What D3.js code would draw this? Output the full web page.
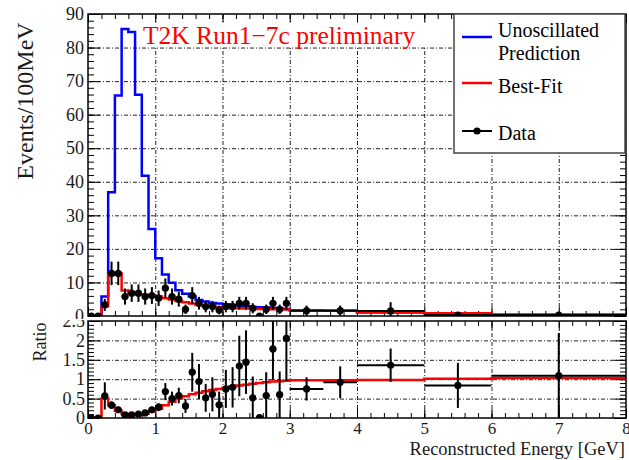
<!DOCTYPE html>
<html>
<head>
<meta charset="utf-8">
<script src="https://cdn.jsdelivr.net/npm/d3@7"></script>
<style>
body { margin:0; background:#fff; }
svg { font-family: "Liberation Serif", "DejaVu Serif", serif; }
</style>
</head>
<body>
<svg width="629" height="460"></svg>
<script>
// T2K nu-mu disappearance: events vs reconstructed energy, with ratio panel

// bin edges in GeV (100 MeV bins to 3 GeV, then wide bins)
var binEdges = [0,0.1,0.2,0.3,0.4,0.5,0.6,0.7,0.8,0.9,1.0,1.1,1.2,1.3,1.4,1.5,1.6,1.7,1.8,1.9,
                2.0,2.1,2.2,2.3,2.4,2.5,2.6,2.7,2.8,2.9,3.0,3.5,4,5,6,8];

// events / 100 MeV
var unoscillated = [0,0,5.8,36.9,65.7,85.5,84.6,65.9,41.8,25.9,17.2,12.4,9.9,7.7,6.6,5.8,4.8,4.3,3.9,3.7,
                    3.5,3.3,3.1,2.9,2.7,2.6,2.5,2.4,2.2,2.1,1.75,1.6,1.1,0.8,0.35];
var bestFit = [0,0,2.9,12.4,12.7,7.6,6.6,6.5,6.3,6.2,5.8,5.3,4.9,4.5,4.1,3.7,3.3,3.0,2.8,2.6,
               2.4,2.3,2.3,2.2,2.2,2.1,2.1,2.0,2.0,1.9,1.7,1.55,1.05,0.8,0.35];
var dataVals = [0,0,3.3,12.7,12.7,5.8,6.8,6.8,5.8,6.1,5.3,8.3,5.8,5.0,2.0,6.1,3.8,2.8,2.8,1.8,
                2.8,2.8,3.8,3.8,2.3,0,2.0,3.8,2.0,3.8,1.6,1.6,1.5,0.3,0.3];
var dataErr = [0,0,1.8,3.5,3.5,2.4,2.6,2.6,2.4,2.5,2.3,2.9,2.4,2.2,1.4,2.5,1.9,1.7,1.7,1.3,
               1.7,1.7,1.9,1.9,1.5,0,1.4,1.9,1.4,1.9,1.5,1.5,2.6,0.5,0.4];

// ratio to unoscillated prediction
var ratioVals = [0,0,0.57,0.33,0.21,0.08,0.08,0.1,0.13,0.21,0.28,0.68,0.5,0.58,0.31,1.18,0.94,0.52,0.61,0.34,
                 0.75,0.79,1.34,1.44,0.52,0.01,0.58,1.78,0.6,2.05,0.75,0.92,1.36,0.84,1.09];
var ratioErr = [0,0,0.35,0.1,0.06,0.03,0.03,0.04,0.05,0.08,0.1,0.22,0.18,0.2,0.18,0.5,0.45,0.36,0.44,0.34,
                0.49,0.52,0.78,0.82,0.55,0,0.6,0.8,0.6,1.1,0.3,0.41,0.43,0.58,1.1];
var ratioFit = [0,0,0.5,0.33,0.19,0.1,0.07,0.08,0.11,0.17,0.24,0.33,0.42,0.5,0.56,0.61,0.65,0.69,0.72,0.75,
                0.78,0.81,0.84,0.86,0.88,0.9,0.92,0.94,0.95,0.96,0.97,0.97,0.98,1.01,1.03];

var xTicks = [0,1,2,3,4,5,6,7,8];
var yTopTicks = [0,10,20,30,40,50,60,70,80,90];
var yRatTicks = [0,0.5,1,1.5,2,2.5];
var yRatLabels = ["0","0.5","1","1.5","2","2.5"];

var left = 88, right = 626;
var topY0 = 14, topY1 = 316;
var ratY0 = 321, ratY1 = 418;
var serif = "Liberation Serif";

var svg = d3.select("svg");

var x = d3.scaleLinear().domain([0,8]).range([left,right]);
var yTop = d3.scaleLinear().domain([0,90]).range([topY1,topY0]);
var yRat = d3.scaleLinear().domain([0,2.5]).range([ratY1,ratY0]);

var minorX = d3.range(0,8.001,0.2);
var minorTop = d3.range(0,90.001,2);
var minorRat = d3.range(0,2.5001,0.1);

var defs = svg.append("defs");
defs.append("clipPath").attr("id","clipTop").append("rect")
  .attr("x",left).attr("y",topY0).attr("width",right-left).attr("height",topY1-topY0);
defs.append("clipPath").attr("id","clipRat").append("rect")
  .attr("x",left).attr("y",ratY0).attr("width",right-left).attr("height",ratY1-ratY0);
defs.append("clipPath").attr("id","clipTopLab").append("rect")
  .attr("x",0).attr("y",0).attr("width",left).attr("height",319);
defs.append("clipPath").attr("id","clipRatLab").append("rect")
  .attr("x",0).attr("y",320).attr("width",left).attr("height",140);

function ticksOnly(g) {
  g.select(".domain").remove();
  g.selectAll(".tick line").attr("stroke","#000").attr("stroke-width",1);
}

function gridStyle(g) {
  g.select(".domain").remove();
  g.selectAll(".tick line").attr("stroke","#222").attr("stroke-width",1)
    .attr("stroke-dasharray","4,2,1,2");
}

// gridlines, ticks, frame for one panel
function drawFrame(yScale, y0, y1, yMajor, yMinor, gridY) {
  var h = y1 - y0, w = right - left;
  svg.append("g").attr("transform","translate(0,"+y1+")")
    .call(d3.axisBottom(x).tickValues([1,2,3,4,5,6,7]).tickSize(-h).tickFormat(""))
    .call(gridStyle);
  svg.append("g").attr("transform","translate("+left+",0)")
    .call(d3.axisLeft(yScale).tickValues(gridY).tickSize(-w).tickFormat(""))
    .call(gridStyle);

  // x ticks bottom and top
  svg.append("g").attr("transform","translate(0,"+y1+")")
    .call(d3.axisBottom(x).tickValues(xTicks).tickSize(-9).tickFormat("")).call(ticksOnly);
  svg.append("g").attr("transform","translate(0,"+y1+")")
    .call(d3.axisBottom(x).tickValues(minorX).tickSize(-5).tickFormat("")).call(ticksOnly);
  svg.append("g").attr("transform","translate(0,"+y0+")")
    .call(d3.axisTop(x).tickValues(xTicks).tickSize(-9).tickFormat("")).call(ticksOnly);
  svg.append("g").attr("transform","translate(0,"+y0+")")
    .call(d3.axisTop(x).tickValues(minorX).tickSize(-5).tickFormat("")).call(ticksOnly);
  // y ticks left and right
  svg.append("g").attr("transform","translate("+left+",0)")
    .call(d3.axisLeft(yScale).tickValues(yMajor).tickSize(-12).tickFormat("")).call(ticksOnly);
  svg.append("g").attr("transform","translate("+left+",0)")
    .call(d3.axisLeft(yScale).tickValues(yMinor).tickSize(-6).tickFormat("")).call(ticksOnly);
  svg.append("g").attr("transform","translate("+right+",0)")
    .call(d3.axisRight(yScale).tickValues(yMajor).tickSize(-12).tickFormat("")).call(ticksOnly);
  svg.append("g").attr("transform","translate("+right+",0)")
    .call(d3.axisRight(yScale).tickValues(yMinor).tickSize(-6).tickFormat("")).call(ticksOnly);
}

function drawBox(y0, y1) {
  svg.append("rect").attr("x",left).attr("y",y0).attr("width",right-left).attr("height",y1-y0)
    .attr("fill","none").attr("stroke","#000").attr("stroke-width",1.5);
}

function stepPath(yScale, vals) {
  var pts = vals.map(function(v,i){ return [binEdges[i], v]; });
  pts.push([binEdges[binEdges.length-1], vals[vals.length-1]]);
  return d3.line().x(function(d){ return x(d[0]); }).y(function(d){ return yScale(d[1]); })
    .curve(d3.curveStepAfter)(pts);
}

function drawData(g, yScale, vals, errs) {
  var pts = vals.map(function(v,i){
    return {x0: binEdges[i], x1: binEdges[i+1], xc: (binEdges[i]+binEdges[i+1])/2, v: v, e: errs[i]};
  });
  var sel = g.selectAll("g.pt").data(pts).enter().append("g");
  sel.append("line")
    .attr("x1",function(d){ return x(d.x0); }).attr("x2",function(d){ return x(d.x1); })
    .attr("y1",function(d){ return yScale(d.v); }).attr("y2",function(d){ return yScale(d.v); })
    .attr("stroke","#000").attr("stroke-width",2);
  sel.filter(function(d){ return d.e > 0; }).append("line")
    .attr("x1",function(d){ return x(d.xc); }).attr("x2",function(d){ return x(d.xc); })
    .attr("y1",function(d){ return yScale(d.v - d.e); }).attr("y2",function(d){ return yScale(d.v + d.e); })
    .attr("stroke","#000").attr("stroke-width",2);
  sel.append("circle")
    .attr("cx",function(d){ return x(d.xc); }).attr("cy",function(d){ return yScale(d.v); })
    .attr("r",3.6).attr("fill","#000");
}

// ---- top panel ----
drawFrame(yTop, topY0, topY1, yTopTicks, minorTop, [10,20,30,40,50,60,70,80]);

// white box behind the title
svg.append("rect").attr("x",140).attr("y",22.5).attr("width",314).attr("height",24.5).attr("fill","#fff");

var gTop = svg.append("g").attr("clip-path","url(#clipTop)");
gTop.append("path").attr("d", stepPath(yTop, unoscillated))
  .attr("fill","none").attr("stroke","#0000ff").attr("stroke-width",2.5);
gTop.append("path").attr("d", stepPath(yTop, bestFit))
  .attr("fill","none").attr("stroke","#ff0000").attr("stroke-width",2.5);
drawData(gTop, yTop, dataVals, dataErr);
drawBox(topY0, topY1);

svg.append("g").attr("clip-path","url(#clipTopLab)")
  .append("g").attr("transform","translate("+left+",0)")
  .call(d3.axisLeft(yTop).tickValues(yTopTicks).tickSize(0).tickPadding(4))
  .call(function(g){ g.select(".domain").remove(); })
  .attr("font-family",serif).attr("font-size",18).attr("color","#1a1a1a");

svg.append("text").attr("x",143).attr("y",44)
  .attr("font-size",25.5).attr("fill","#ff0000").text("T2K Run1\u22127c preliminary");

svg.append("text").attr("transform","translate(33,101) rotate(-90)")
  .attr("text-anchor","middle").attr("font-size",24).attr("fill","#1a1a1a").text("Events/100MeV");

// legend
var leg = svg.append("g");
leg.append("rect").attr("x",454).attr("y",14).attr("width",171).attr("height",139)
  .attr("fill","#fff").attr("stroke","#444").attr("stroke-width",1.5);
leg.append("line").attr("x1",462).attr("x2",492).attr("y1",37).attr("y2",37)
  .attr("stroke","#0000ff").attr("stroke-width",2.5);
leg.append("text").attr("x",498).attr("y",37).attr("font-size",20).text("Unoscillated");
leg.append("text").attr("x",498).attr("y",60).attr("font-size",20).text("Prediction");
leg.append("line").attr("x1",462).attr("x2",492).attr("y1",83).attr("y2",83)
  .attr("stroke","#ff0000").attr("stroke-width",2.5);
leg.append("text").attr("x",498).attr("y",93).attr("font-size",20).text("Best-Fit");
leg.append("line").attr("x1",462).attr("x2",492).attr("y1",131).attr("y2",131)
  .attr("stroke","#000").attr("stroke-width",2);
leg.append("circle").attr("cx",477).attr("cy",131).attr("r",3.6).attr("fill","#000");
leg.append("text").attr("x",498).attr("y",140).attr("font-size",20).text("Data");

// ---- ratio panel ----
drawFrame(yRat, ratY0, ratY1, yRatTicks, minorRat, [0.5,1,1.5,2]);
var gRat = svg.append("g").attr("clip-path","url(#clipRat)");
gRat.append("path").attr("d", stepPath(yRat, ratioFit))
  .attr("fill","none").attr("stroke","#ff0000").attr("stroke-width",2.5);
drawData(gRat, yRat, ratioVals, ratioErr);
drawBox(ratY0, ratY1);

svg.append("g").attr("clip-path","url(#clipRatLab)")
  .append("g").attr("transform","translate("+left+",0)")
  .call(d3.axisLeft(yRat).tickValues(yRatTicks).tickSize(0).tickPadding(3)
    .tickFormat(function(d,i){ return yRatLabels[i]; }))
  .call(function(g){ g.select(".domain").remove(); })
  .attr("font-family",serif).attr("font-size",18).attr("color","#1a1a1a");

svg.append("g").attr("transform","translate(0,"+ratY1+")")
  .call(d3.axisBottom(x).tickValues(xTicks).tickSize(0).tickPadding(4))
  .call(function(g){ g.select(".domain").remove(); })
  .attr("font-family",serif).attr("font-size",17).attr("color","#1a1a1a");

svg.append("text").attr("transform","translate(46,342) rotate(-90)")
  .attr("text-anchor","middle").attr("font-size",18).attr("fill","#1a1a1a").text("Ratio");

svg.append("text").attr("x",625).attr("y",455).attr("text-anchor","end")
  .attr("font-size",18.5).attr("fill","#1a1a1a").text("Reconstructed Energy [GeV]");
</script>
</body>
</html>
